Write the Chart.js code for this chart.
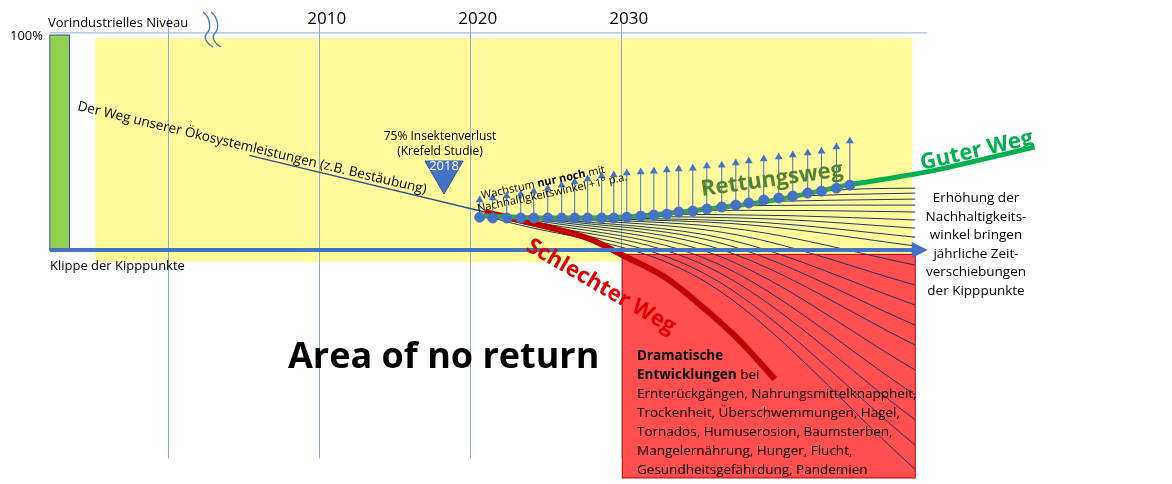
<!DOCTYPE html>
<html>
<head>
<meta charset="utf-8">
<script src="https://cdn.jsdelivr.net/npm/chart.js@4"></script>
<style>
  body { margin: 0; background: #fff; }
  #wrap { width: 1172px; height: 484px; }
</style>
</head>
<body>
<div id="wrap"><canvas id="chart" width="1172" height="484"></canvas></div>
<script>
// --- data (x = year, y = % of pre-industrial level) ---
const yearTicks = [2000, 2010, 2020, 2030];
const yearLabels = ['', '2010', '2020', '2030'];

const ecoPath = [{x: 2005.4, y: 44}, {x: 2021, y: 17.7}];
const badPath = [
  {x: 2021, y: 17.7}, {x: 2025, y: 11}, {x: 2028, y: 5}, {x: 2030, y: -2},
  {x: 2033, y: -13}, {x: 2036, y: -30}, {x: 2038, y: -43}, {x: 2040.2, y: -60}
];
const rescuePath = [
  {x: 2021, y: 16}, {x: 2025, y: 14.9}, {x: 2030, y: 15.3}, {x: 2035, y: 18.5},
  {x: 2040, y: 23}, {x: 2045.2, y: 30.5}
];
const goodPath = [{x: 2045.2, y: 30.5}, {x: 2050, y: 36}, {x: 2057.4, y: 47.9}];

const dotYears = [2020.66, 2021.52, 2022.45, 2023.38, 2024.24, 2025.17, 2026.09, 2026.95, 2027.81,
  2028.74, 2029.54, 2030.40, 2031.32, 2032.19, 2033.05, 2033.84, 2034.77, 2035.70, 2036.69,
  2037.62, 2038.48, 2039.47, 2040.46, 2041.39, 2042.38, 2043.29, 2044.28, 2045.17];
const dotValues = [15.3, 14.9, 14.9, 14.9, 14.9, 14.9, 14.9, 14.9, 14.9, 14.9, 14.9, 15.3, 15.8,
  16.3, 16.7, 17.7, 18.1, 19.1, 20, 20.9, 21.9, 23.3, 24.2, 25.1, 26.5, 27.4, 28.8, 30.2];
const arrowTops = [23.3, 24.2, 25.1, 26.0, 27.4, 28.8, 30.2, 31.6, 33.0, 34.4, 34.9, 35.8, 36.3,
  36.7, 37.2, 37.7, 38.1, 39.1, 39.5, 40.5, 41.4, 42.3, 43.3, 44.2, 45.1, 46.0, 47.9, 50.7];

// fan curves: [startYear, startValue, midYear, midValue, endYear, endValue]
const fanCurves = [
  [2043, 27.5, 2046.2, 28.5, 2049.5, 28.8],
  [2041, 25, 2045.2, 25.9, 2049.5, 26.5],
  [2039, 22.5, 2044.2, 23.2, 2049.5, 23.7],
  [2037, 20.5, 2043.2, 20.9, 2049.5, 20.9],
  [2035, 18.5, 2042.2, 18.4, 2049.5, 17.7],
  [2033, 16.7, 2041.2, 16, 2049.5, 14],
  [2031, 15.8, 2040.2, 14.4, 2049.5, 10.2],
  [2029.5, 15.1, 2039.5, 12.8, 2049.5, 6],
  [2028, 14.9, 2038.7, 11.6, 2049.5, 1.9],
  [2027, 14.9, 2038.2, 9.4, 2049.5, -7],
  [2026, 14.9, 2037.7, 7.1, 2049.5, -16.3],
  [2025, 14.9, 2037.2, 4.8, 2049.5, -25.6],
  [2024.5, 14.9, 2037, 2.5, 2049.5, -34.9],
  [2024, 14.9, 2036.7, 0.1, 2049.5, -44.2],
  [2023.5, 14.9, 2036.5, -2.8, 2049.5, -55.8],
  [2023, 14.9, 2036.2, -5.7, 2049.5, -67.4],
  [2022.5, 14.9, 2036, -8.6, 2049.5, -79],
  [2022, 14.9, 2035.7, -11.5, 2049.5, -90.7],
  [2021.5, 15, 2035.5, -14.3, 2049.5, -102]
];

const insectLoss = {x: 2018.3, y: 36.3};

// --- datasets ---
const arrowData = [];
dotYears.forEach((yr, i) => {
  arrowData.push({x: yr, y: dotValues[i]}, {x: yr, y: arrowTops[i]}, {x: yr, y: null});
});

const datasets = [];
fanCurves.forEach(c => {
  datasets.push({
    data: [{x: c[0], y: c[1]}, {x: c[2], y: c[3]}, {x: c[4], y: c[5]}],
    borderColor: '#1f3864', borderWidth: 1, pointRadius: 0,
    cubicInterpolationMode: 'monotone', order: 10
  });
});
datasets.push(
  {data: ecoPath, borderColor: '#2f528f', borderWidth: 1.3, pointRadius: 0, order: 9},
  {data: badPath, borderColor: '#c00000', borderWidth: 6, pointRadius: 0, cubicInterpolationMode: 'monotone', order: 5},
  {data: rescuePath, borderColor: '#3aa346', borderWidth: 5, pointRadius: 0, cubicInterpolationMode: 'monotone', order: 4},
  {data: goodPath, borderColor: '#00b050', borderWidth: 5, pointRadius: 0, cubicInterpolationMode: 'monotone', order: 4},
  {data: arrowData, borderColor: '#4472c4', borderWidth: 1, spanGaps: false, order: 3,
    pointStyle: 'triangle', backgroundColor: '#4472c4',
    pointRadius: ctx => (ctx.dataIndex % 3 === 1 ? 4.5 : 0), pointBorderWidth: 0},
  {data: dotYears.map((yr, i) => ({x: yr, y: dotValues[i]})), showLine: false, order: 2,
    pointRadius: 5, backgroundColor: '#4472c4', borderColor: '#4472c4'},
  {data: [insectLoss], showLine: false, order: 1, pointStyle: 'triangle', rotation: 180,
    pointRadius: 22, backgroundColor: '#4472c4', borderColor: '#2f528f', borderWidth: 1}
);

// --- background shapes and text ---
const decor = {
  id: 'decor',
  beforeDatasetsDraw(chart) {
    const {ctx, scales: {x, y}} = chart;
    const rect = (x0, y0, x1, y1, fill, stroke) => {
      const px = x.getPixelForValue(x0), py = y.getPixelForValue(y1);
      const w = x.getPixelForValue(x1) - px, h = y.getPixelForValue(y0) - py;
      ctx.fillStyle = fill; ctx.fillRect(px, py, w, h);
      if (stroke) { ctx.strokeStyle = stroke; ctx.lineWidth = 1; ctx.strokeRect(px, py, w, h); }
    };
    ctx.save();
    rect(1995.2, -5.6, 2049.3, 98.6, '#fffb9c');
    rect(2030.1, -106, 2049.5, -2, '#ff4f4f', '#c00000');
    rect(1992.2, 0, 1993.5, 100, '#92d050', '#2f528f');
    // vertical year lines
    ctx.strokeStyle = '#8eaadb'; ctx.lineWidth = 1;
    yearTicks.forEach(t => {
      const px = Math.round(x.getPixelForValue(t)) + 0.5;
      ctx.beginPath(); ctx.moveTo(px, y.getPixelForValue(108)); ctx.lineTo(px, y.getPixelForValue(-97)); ctx.stroke();
    });
    // 100% line
    const p100 = y.getPixelForValue(101);
    ctx.beginPath(); ctx.moveTo(x.getPixelForValue(1992.2), p100); ctx.lineTo(x.getPixelForValue(2050.3), p100); ctx.stroke();
    // wavy break marks
    ctx.strokeStyle = '#4472c4'; ctx.lineWidth = 1.3;
    [0, 8].forEach(dx => {
      ctx.beginPath(); ctx.moveTo(203 + dx, 12);
      ctx.bezierCurveTo(211 + dx, 18, 211 + dx, 30, 207 + dx, 33);
      ctx.bezierCurveTo(203 + dx, 37, 206 + dx, 43, 213 + dx, 47);
      ctx.stroke();
    });
    ctx.restore();
  },
  afterDatasetsDraw(chart) {
    const {ctx, scales: {x, y}} = chart;
    ctx.save();
    // baseline arrow
    const y0 = y.getPixelForValue(0), xa = x.getPixelForValue(1992.2), xb = x.getPixelForValue(2049.4);
    ctx.strokeStyle = '#4472c4'; ctx.lineWidth = 4;
    ctx.beginPath(); ctx.moveTo(xa, y0); ctx.lineTo(xb, y0); ctx.stroke();
    ctx.fillStyle = '#4472c4';
    ctx.beginPath(); ctx.moveTo(xb + 14, y0); ctx.lineTo(xb - 2, y0 - 8); ctx.lineTo(xb - 2, y0 + 8); ctx.fill();

    const txt = (s, px, py, font, color, align, rot) => {
      ctx.save(); ctx.translate(px, py); if (rot) ctx.rotate(rot * Math.PI / 180);
      ctx.font = font; ctx.fillStyle = color; ctx.textAlign = align || 'left'; ctx.textBaseline = 'alphabetic';
      ctx.fillText(s, 0, 0); ctx.restore();
    };
    const F = '"Open Sans", "Noto Sans", sans-serif';
    yearTicks.forEach((t, i) => txt(yearLabels[i], x.getPixelForValue(t) + 8, 24, '17px ' + F, '#000', 'center'));
    txt('100%', 10, 40, '13px ' + F, '#000');
    txt('Vorindustrielles Niveau', 48, 27, '13px ' + F, '#000');
    txt('Klippe der Kipppunkte', 50, 270, '13px ' + F, '#000');
    txt('Der Weg unserer Ökosystemleistungen (z.B. Bestäubung)', 77, 110, '13.5px ' + F, '#000', 'left', 13.5);
    txt('75% Insektenverlust', 440, 140, '12px ' + F, '#000', 'center');
    txt('(Krefeld Studie)', 440, 155, '12px ' + F, '#000', 'center');
    const tx = x.getPixelForValue(insectLoss.x), ty = y.getPixelForValue(insectLoss.y);
    txt('2018', tx, ty - 2, '13px ' + F, '#fff', 'center');
    txt('Wachstum ', 482, 199, '11px ' + F, '#000', 'left', -12);
    ctx.save(); ctx.translate(482, 199); ctx.rotate(-12 * Math.PI / 180);
    ctx.font = '11px ' + F; let w = ctx.measureText('Wachstum ').width;
    ctx.font = 'bold 11px ' + F; ctx.fillStyle = '#000'; ctx.fillText('nur noch', w, 0);
    w += ctx.measureText('nur noch ').width;
    ctx.font = '11px ' + F; ctx.fillText('mit', w, 0); ctx.restore();
    txt('Nachhaltigkeitswinkel +1° p.a.', 478, 212, '11px ' + F, '#000', 'left', -12);
    txt('Rettungsweg', 702, 196, 'bold 22px ' + F, '#548235', 'left', -8);
    txt('Guter Weg', 922, 170, 'bold 22px ' + F, '#00b050', 'left', -13);
    txt('Schlechter Weg', 525, 250, 'bold 22px ' + F, '#e00000', 'left', 30);
    ['Erhöhung der', 'Nachhaltigkeits-', 'winkel bringen', 'jährliche Zeit-', 'verschiebungen', 'der Kipppunkte']
      .forEach((s, i) => txt(s, 976, 202 + i * 18.6, '13.5px ' + F, '#000', 'center'));
    txt('Area of no return', 288, 368, 'bold 36px ' + F, '#000');
    ctx.save(); ctx.font = 'bold 13.5px ' + F; ctx.fillStyle = '#000';
    ctx.fillText('Dramatische', 637, 360);
    ctx.fillText('Entwicklungen', 637, 379);
    const ew = ctx.measureText('Entwicklungen ').width;
    ctx.font = '13.5px ' + F; ctx.fillText('bei', 637 + ew, 379);
    ['Ernterückgängen, Nahrungsmittelknappheit,', 'Trockenheit, Überschwemmungen, Hagel,',
     'Tornados, Humuserosion, Baumsterben,', 'Mangelernährung, Hunger, Flucht,',
     'Gesundheitsgefährdung, Pandemien']
      .forEach((s, i) => ctx.fillText(s, 637, 398 + i * 19));
    ctx.restore();
    ctx.restore();
  }
};

new Chart(document.getElementById('chart'), {
  type: 'line',
  data: {datasets},
  options: {
    responsive: false,
    animation: false,
    layout: {padding: 0, autoPadding: false},
    scales: {
      x: {type: 'linear', min: 1988.9, max: 2066.5, display: false},
      y: {type: 'linear', min: -108.8, max: 116.3, display: false}
    },
    plugins: {legend: {display: false}, tooltip: {enabled: false}}
  },
  plugins: [decor]
});
</script>
</body>
</html>
